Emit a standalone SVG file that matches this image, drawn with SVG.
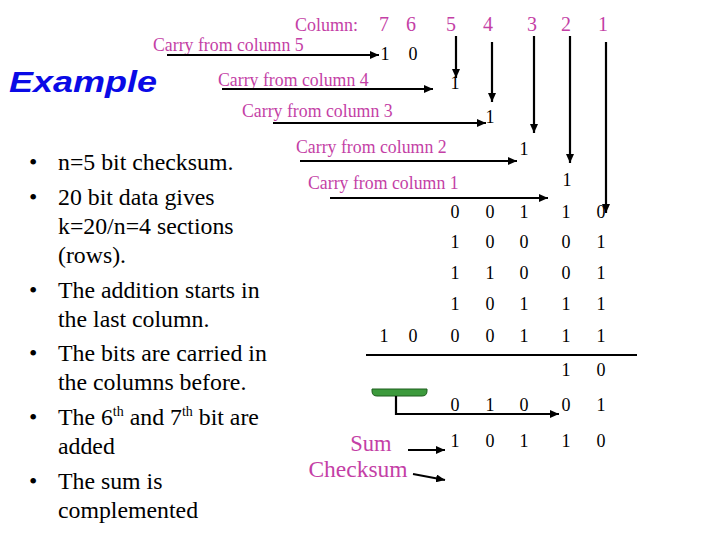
<svg xmlns="http://www.w3.org/2000/svg" width="720" height="540" viewBox="0 0 720 540">
<defs>
<marker id="ah" markerUnits="userSpaceOnUse" markerWidth="10" markerHeight="8" refX="9" refY="4" orient="auto">
<path d="M0,0 L9,4 L0,8 Z" fill="#000"/>
</marker>
<style>
.m{font-family:"Liberation Serif","Times New Roman",serif;fill:#C43FA6}
.lbl{font-size:17.8px}
.col{font-size:20px;text-anchor:middle}
.d{font-family:"Liberation Serif","Times New Roman",serif;font-size:18px;fill:#000;text-anchor:middle}
.b{font-family:"Liberation Serif","Times New Roman",serif;font-size:23.8px;fill:#000}
.ln{stroke:#000;stroke-width:2.2;fill:none}
.ar{stroke:#000;stroke-width:2.2;fill:none;marker-end:url(#ah)}
</style>
</defs>
<rect width="720" height="540" fill="#fff"/>

<g id="title">
<text x="9" y="92" font-family="Liberation Sans,Arial,sans-serif" font-size="29" font-weight="bold" font-style="italic" fill="#0A0AE6" textLength="148" lengthAdjust="spacingAndGlyphs">Example</text>
</g>

<g id="bullets" class="b" font-family="Liberation Serif, Times New Roman, serif">
<text x="29" y="170">•</text><text x="58" y="170">n=5 bit checksum.</text>
<text x="29" y="205">•</text><text x="58" y="205">20 bit data gives</text>
<text x="58" y="234">k=20/n=4 sections</text>
<text x="58" y="263">(rows).</text>
<text x="29" y="298">•</text><text x="58" y="298">The addition starts in</text>
<text x="58" y="327">the last column.</text>
<text x="29" y="361">•</text><text x="58" y="361">The bits are carried in</text>
<text x="58" y="390">the columns before.</text>
<text x="29" y="425">•</text><text x="58" y="425">The 6<tspan font-size="14" dy="-9">th</tspan><tspan dy="9"> and 7</tspan><tspan font-size="14" dy="-9">th</tspan><tspan dy="9"> bit are</tspan></text>
<text x="58" y="454">added</text>
<text x="29" y="489">•</text><text x="58" y="489">The sum is</text>
<text x="58" y="518">complemented</text>
</g>

<g id="columns" class="m">
<text x="295" y="31" font-size="18">Column:</text>
<text class="col" x="384" y="31">7</text>
<text class="col" x="411" y="31">6</text>
<text class="col" x="451" y="31">5</text>
<text class="col" x="488" y="31">4</text>
<text class="col" x="532" y="31">3</text>
<text class="col" x="566" y="31">2</text>
<text class="col" x="603" y="31">1</text>
</g>

<g id="carry-labels" class="m lbl">
<text x="153" y="51">Carry from column 5</text>
<text x="218" y="86">Carry from column 4</text>
<text x="242" y="117">Carry from column 3</text>
<text x="296" y="153">Carry from column 2</text>
<text x="308" y="189">Carry from column 1</text>
</g>

<g id="carries" class="d">
<text x="385" y="60">1</text><text x="413" y="60">0</text>
<text x="455" y="89">1</text>
<text x="490" y="123">1</text>
<text x="524" y="155">1</text>
<text x="567" y="186">1</text>
</g>

<g id="rows" class="d">
<text x="455" y="218">0</text><text x="490" y="218">0</text><text x="524" y="218">1</text><text x="566" y="218">1</text><text x="601" y="218">0</text>
<text x="455" y="248">1</text><text x="490" y="248">0</text><text x="524" y="248">0</text><text x="566" y="248">0</text><text x="601" y="248">1</text>
<text x="455" y="279">1</text><text x="490" y="279">1</text><text x="524" y="279">0</text><text x="566" y="279">0</text><text x="601" y="279">1</text>
<text x="455" y="310">1</text><text x="490" y="310">0</text><text x="524" y="310">1</text><text x="566" y="310">1</text><text x="601" y="310">1</text>
<text x="384" y="342">1</text><text x="413" y="342">0</text><text x="455" y="342">0</text><text x="490" y="342">0</text><text x="524" y="342">1</text><text x="566" y="342">1</text><text x="601" y="342">1</text>
<text x="566" y="376">1</text><text x="601" y="376">0</text>
<text x="455" y="411">0</text><text x="490" y="411">1</text><text x="524" y="411">0</text><text x="566" y="411">0</text><text x="601" y="411">1</text>
<text x="455" y="447">1</text><text x="490" y="447">0</text><text x="524" y="447">1</text><text x="566" y="447">1</text><text x="601" y="447">0</text>
</g>

<g id="sum-labels" class="m">
<text x="371" y="451" text-anchor="middle" font-size="22.5">Sum</text>
<text x="358" y="477" text-anchor="middle" font-size="23.5">Checksum</text>
</g>

<g id="bracket">
<path d="M372,389 H427 V391 Q427,396 422,396 H377 Q372,396 372,391 Z" fill="#3C9A3C" stroke="#1E5E1E" stroke-width="1"/>
</g>

<g id="connectors">
<line class="ar" x1="456" y1="36" x2="456" y2="78"/>
<line class="ar" x1="492" y1="42" x2="492" y2="102"/>
<line class="ar" x1="534" y1="36" x2="534" y2="133"/>
<line class="ar" x1="570" y1="36" x2="570" y2="163"/>
<line class="ar" x1="606" y1="42" x2="606" y2="213"/>
<line class="ar" x1="167" y1="55" x2="379" y2="55"/>
<line class="ar" x1="222" y1="89" x2="433" y2="89"/>
<line class="ar" x1="273" y1="123" x2="486" y2="123"/>
<line class="ar" x1="300" y1="161" x2="517" y2="161"/>
<line class="ar" x1="330" y1="198" x2="548" y2="198"/>
<line class="ln" x1="366" y1="355" x2="637" y2="355" stroke-width="1.5"/>
<path class="ar" d="M396,396 V414 H559"/>
<line class="ar" x1="408" y1="450" x2="445" y2="450"/>
<line class="ar" x1="413" y1="474" x2="445" y2="480"/>
</g>
</svg>
